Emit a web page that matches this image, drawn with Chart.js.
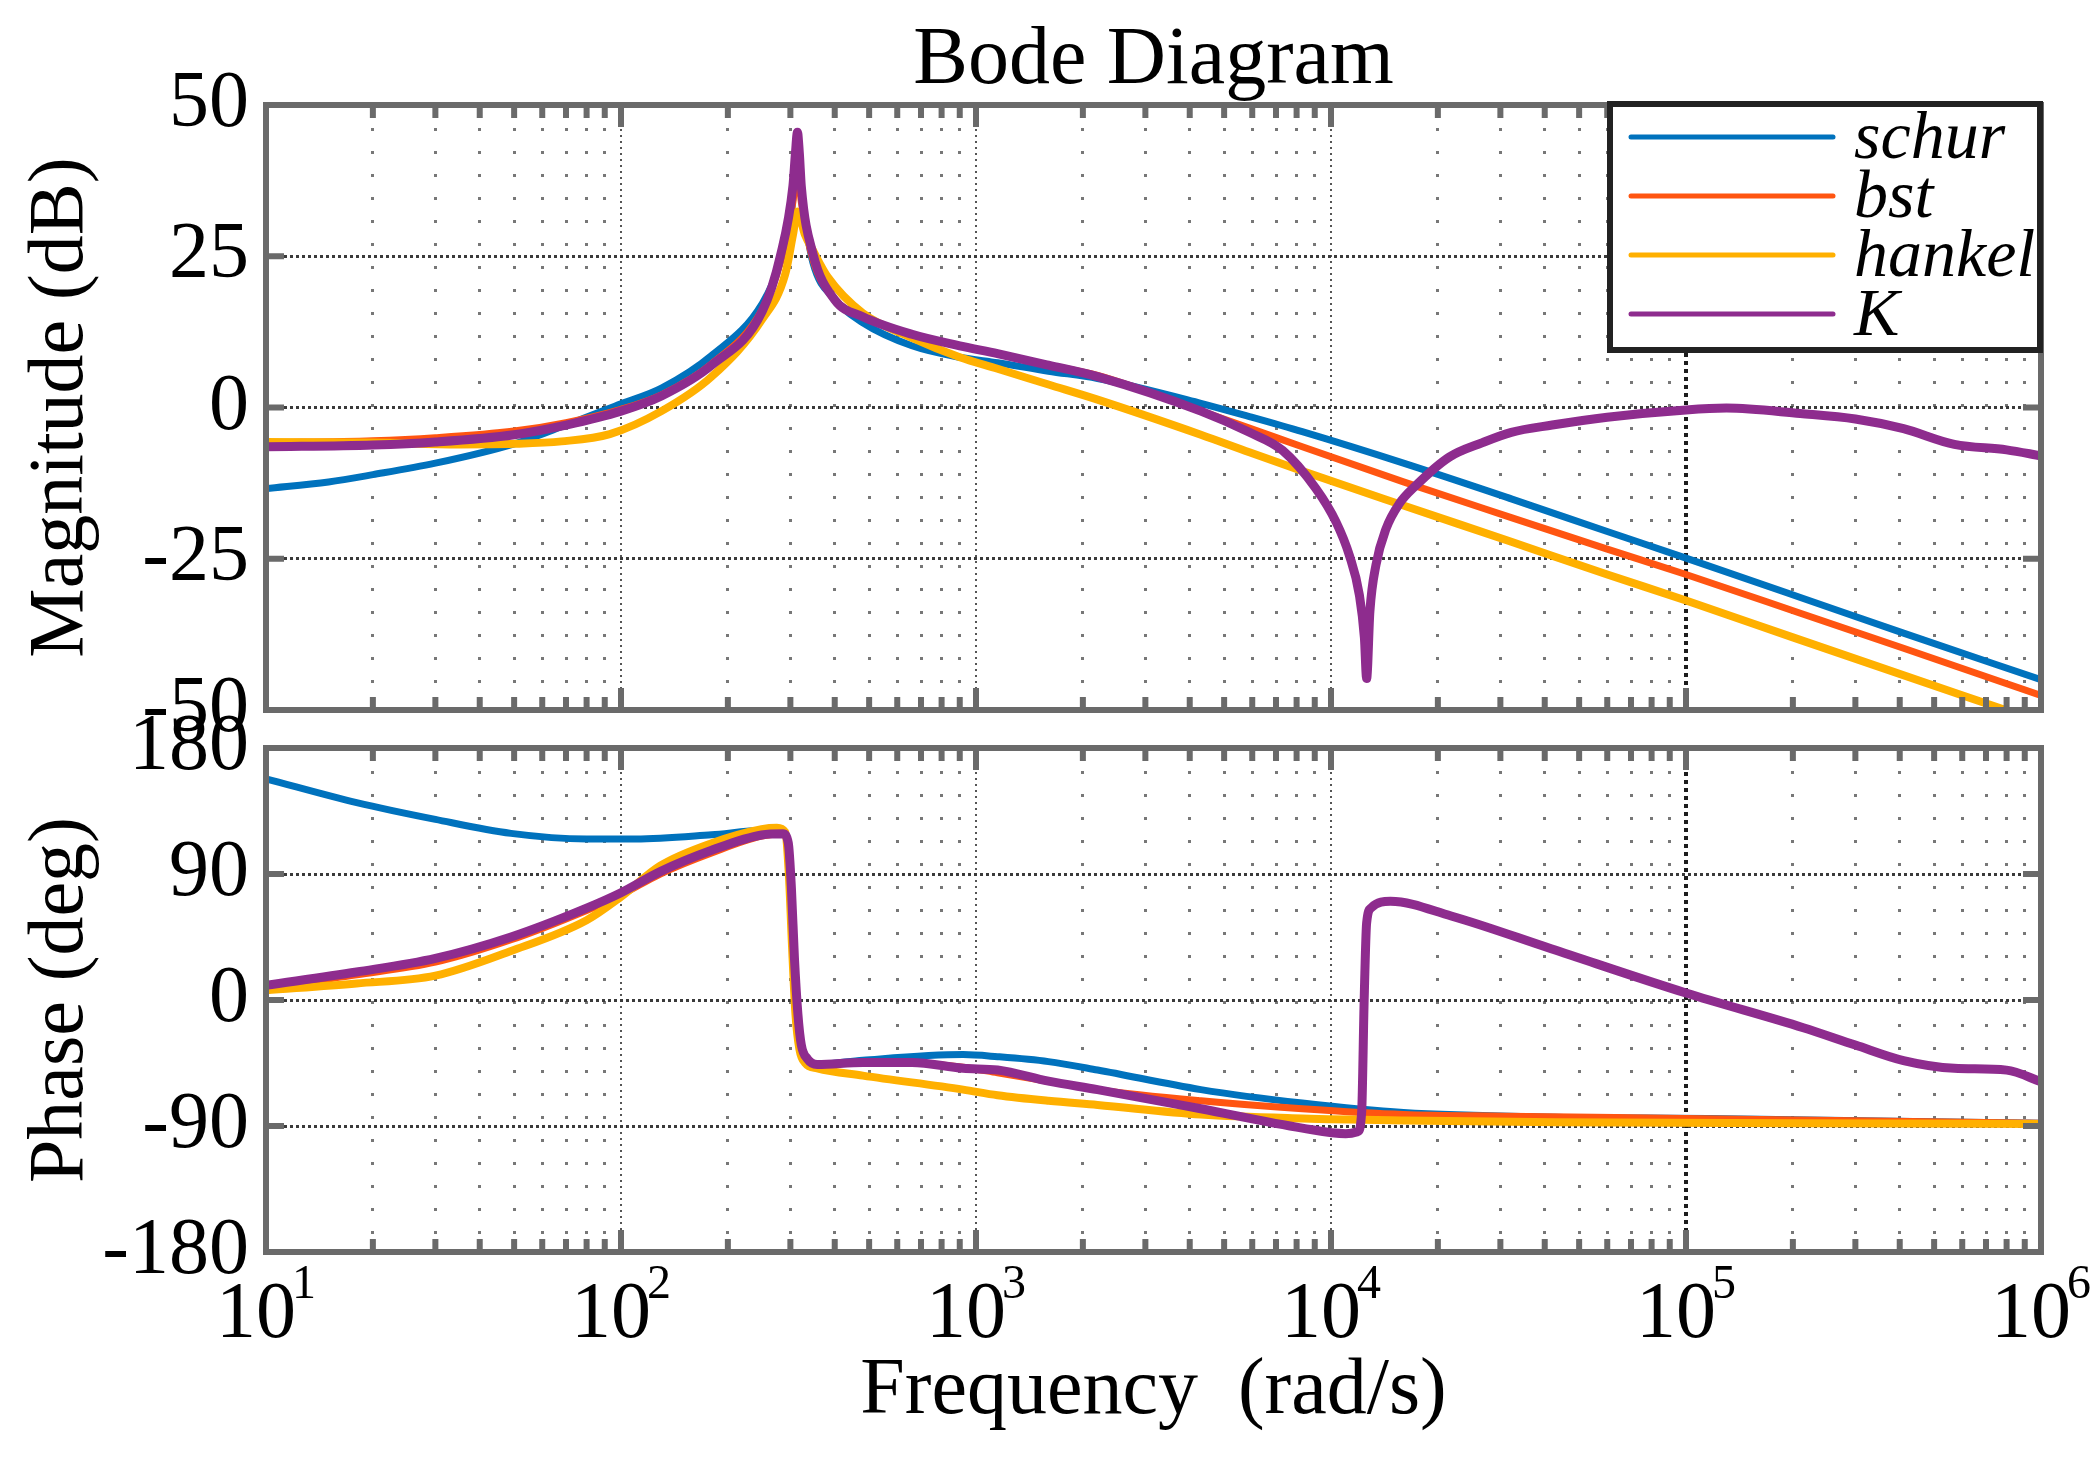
<!DOCTYPE html>
<html>
<head>
<meta charset="utf-8">
<title>Bode Diagram</title>
<script src="https://cdn.jsdelivr.net/npm/chart.js@4.4.0/dist/chart.umd.min.js"></script>
<style>
  html, body { margin: 0; padding: 0; background: #fff; overflow: hidden; }
  #wrap { position: relative; width: 2094px; height: 1459px; }
  canvas { position: absolute; left: 0; top: 0; }
</style>
</head>
<body>
<div id="wrap">
  <canvas id="mag" width="2094" height="1459"></canvas>
  <canvas id="phase" width="2094" height="1459"></canvas>
</div>
<script>
// ---- data ----
const seriesNames = ["schur", "bst", "hankel", "K"];
const decades = [1, 2, 3, 4, 5, 6];
const magTicks = [-50, -25, 0, 25, 50];
const phaseTicks = [-180, -90, 0, 90, 180];

// magnitude (dB)
const schurMagW = [10, 15, 20, 30, 50, 70, 100, 130, 180, 250, 281, 300, 314, 328, 347, 400, 480, 660, 900, 1150, 1600, 2200, 4300, 5890, 8300, 16000, 32200, 60000, 100000, 210000, 410000, 1000000];
const schurMag = [-13.4, -12.3, -11.1, -9.2, -6.0, -2.9, 0.6, 3.2, 8.6, 17.2, 24, 31, 40, 32, 24, 17.9, 14, 10.2, 8.3, 7.4, 6.0, 4.8, 0.7, -1.5, -4.0, -9.2, -15.1, -20.5, -24.9, -31.4, -37.3, -45];

const bstMagW = [10, 20, 30, 50, 70, 100, 130, 180, 250, 281, 305, 314, 322, 347, 400, 480, 660, 900, 1150, 1600, 2200, 4300, 5890, 8300, 16000, 32200, 60000, 100000, 210000, 410000, 1000000];
const bstMag = [-5.8, -5.5, -5.0, -3.9, -2.5, -0.3, 2.1, 7.2, 16.2, 24, 34, 40, 34, 24.5, 17.9, 15, 12.1, 10.2, 8.9, 7.0, 5.3, -0.6, -3.4, -6.5, -12.3, -18.2, -23.4, -27.6, -34, -39.8, -47.6];

const hankelMagW = [10, 20, 35, 50, 68, 93, 130, 180, 250, 290, 305, 314, 330, 347, 382, 480, 660, 900, 1150, 1600, 2200, 4300, 5890, 8300, 16000, 32200, 60000, 100000, 200000, 1000000];
const hankelMag = [-5.7, -5.8, -6.1, -6.0, -5.6, -4.4, -0.6, 5.1, 14.6, 22, 28.5, 32.4, 28.5, 26, 21.6, 15.6, 11.5, 8.3, 6.4, 3.8, 1.3, -4.5, -7.4, -10.5, -16.2, -22.2, -27.6, -31.9, -38, -52];

const kMagW = [10, 20, 30, 50, 70, 100, 130, 180, 250, 281, 305, 310, 314, 318, 322, 347, 400, 480, 660, 900, 1150, 1600, 2200, 4300, 5890, 7310, 9070, 10330, 11260, 12020, 12420, 12600, 12870, 13390, 14300, 15570, 17340, 21530, 26720, 32200, 42000, 60000, 100000, 130000, 210000, 300000, 410000, 570000, 800000, 1000000];
const kMag = [-6.5, -6.2, -5.7, -4.5, -2.9, -0.6, 1.9, 7.0, 15.9, 25, 36.6, 42, 45.5, 42, 36.6, 25.5, 17.8, 15, 12.1, 10.2, 8.9, 7.0, 5.1, -0.6, -4.1, -7.1, -13.4, -18.9, -24.4, -31, -38.1, -44.8, -33.7, -26, -20, -15.9, -12.9, -8.2, -5.8, -4.1, -2.9, -1.6, -0.4, -0.1, -1.0, -1.9, -3.5, -6.1, -7.0, -8.0];

// phase (deg)
const schurPhW = [10, 18, 30, 49, 80, 110, 180, 250, 286, 296, 302, 308, 315, 322, 335, 357, 480, 920, 1150, 1600, 2200, 4300, 8300, 16000, 43000, 115000, 200000, 1000000];
const schurPh = [158, 141, 129, 119, 115, 115, 118, 121, 119, 112, 80, 30, -10, -32, -42, -46, -43, -39, -40.5, -44, -50, -64, -73.6, -80.4, -83.7, -84.6, -85.5, -88];

const bstPhW = [10, 18, 30, 49, 80, 100, 129, 180, 249, 286, 296, 302, 308, 315, 322, 335, 357, 480, 660, 920, 1150, 1600, 2200, 4300, 8300, 16000, 31000, 100000, 1000000];
const bstPh = [9, 18, 27, 43, 64, 75, 90, 105, 117, 118.5, 112, 80, 30, -10, -32, -42, -46, -44.6, -45, -48, -52, -58, -64, -72, -77.7, -81.8, -83, -84.6, -88];

const hankelPhW = [10, 18, 30, 49, 80, 100, 129, 180, 249, 275, 290, 297, 303, 310, 318, 330, 357, 480, 920, 1150, 1600, 2200, 4300, 8300, 16000, 43000, 200000, 1000000];
const hankelPh = [7, 11.8, 17.4, 35, 57, 73.8, 95.9, 112, 122, 123, 120, 90, 40, -10, -35, -45, -48.8, -54, -64, -68, -72, -75, -81.8, -84.6, -86, -87.3, -88, -88.5];

const kPhW = [10, 18, 30, 49, 80, 100, 129, 180, 249, 286, 296, 302, 308, 315, 322, 335, 357, 480, 660, 920, 1150, 1600, 2200, 4300, 8300, 11000, 11900, 12200, 12400, 12600, 13000, 14700, 21800, 41700, 100000, 214000, 300000, 410000, 570000, 800000, 1000000];
const kPh = [10.5, 20, 29.7, 45, 65.6, 76.6, 91.7, 106.9, 117.9, 118.7, 112, 80, 30, -10, -32, -42, -46, -44.6, -44.6, -48.8, -50, -58, -64, -77.7, -91.5, -95.5, -94, -80, 0, 55, 66, 70.5, 60, 36.6, 5, -19.8, -32.2, -43.3, -48.8, -50.1, -58.4];

// ---- styles ----
const colors = ["#0072BD", "#FF5511", "#FFB000", "#8E2C8E"];
const widths = [7, 7, 8, 9];
const SERIF = "'Liberation Serif', 'DejaVu Serif', serif";
const AXIS_GRAY = "#6a6a6a";

// minor + major tick positions along the frequency axis
const xTickValues = [];
decades.forEach(d => {
  for (let m = 1; m <= 9; m++) {
    if (d === decades[decades.length - 1] && m > 1) break;
    xTickValues.push(m * Math.pow(10, d));
  }
});
const isDecade = v => Math.abs(Math.log10(v) - Math.round(Math.log10(v))) < 1e-9;

function toPoints(w, vals) {
  return w.map((x, i) => ({ x: x, y: vals[i] }));
}

function makeDatasets(pairs) {
  return pairs.map((p, i) => ({
    label: seriesNames[i],
    data: toPoints(p[0], p[1]),
    borderColor: colors[i],
    borderWidth: widths[i],
    pointRadius: 0,
    fill: false,
    cubicInterpolationMode: "monotone",
    order: pairs.length - 1 - i   // K drawn last, on top
  }));
}

// x grid style per tick
function xGridColor(ctx) {
  const v = ctx.tick ? ctx.tick.value : null;
  if (v === null || v <= 10 || v >= 1e6) return "rgba(0,0,0,0)";
  if (v === 1e5) return "#1c1c1c";
  return isDecade(v) ? "#555" : "#777";
}
function xGridWidth(ctx) {
  const v = ctx.tick ? ctx.tick.value : null;
  if (v === 1e5) return 4;
  return v !== null && isDecade(v) ? 2 : 3;
}
function xGridDash(ctx) {
  const v = ctx.tick ? ctx.tick.value : null;
  if (v === null) return [];
  if (v === 1e5) return [4, 4];
  return isDecade(v) ? [2, 4] : [3, 20];
}

// box, inside ticks
function frame(extra) {
  return {
    id: "frame",
    afterDatasetsDraw(chart) {
      const { ctx, chartArea: a, scales } = chart;
      const x = scales.x, y = scales.y;
      ctx.save();
      ctx.strokeStyle = AXIS_GRAY;
      ctx.lineWidth = 6;
      ctx.setLineDash([]);
      x.ticks.forEach(t => {
        if (t.value <= x.min || t.value >= x.max) return;
        const px = x.getPixelForValue(t.value);
        const len = t.major ? 22 : 13;
        ctx.beginPath();
        ctx.moveTo(px, a.top); ctx.lineTo(px, a.top + len);
        ctx.moveTo(px, a.bottom); ctx.lineTo(px, a.bottom - len);
        ctx.stroke();
      });
      y.ticks.forEach(t => {
        if (t.value <= y.min || t.value >= y.max) return;
        const py = y.getPixelForValue(t.value);
        ctx.beginPath();
        ctx.moveTo(a.left, py); ctx.lineTo(a.left + 18, py);
        ctx.moveTo(a.right, py); ctx.lineTo(a.right - 18, py);
        ctx.stroke();
      });
      ctx.strokeRect(a.left, a.top, a.right - a.left, a.bottom - a.top);
      ctx.restore();
    },
    afterDraw(chart) {
      if (extra) extra(chart);
    }
  };
}

function makeOptions(yMin, yMax, yTicks, yTitle, padTop, padBottom) {
  return {
    responsive: false,
    animation: false,
    devicePixelRatio: 1,
    layout: { padding: { left: 0, right: 53, top: padTop, bottom: padBottom } },
    plugins: { legend: { display: false }, tooltip: { enabled: false } },
    scales: {
      x: {
        type: "logarithmic",
        min: 10,
        max: 1e6,
        afterBuildTicks: s => { s.ticks = xTickValues.map(v => ({ value: v, major: isDecade(v) })); },
        afterFit: s => { s.height = 0; },
        ticks: { display: false },
        grid: { drawTicks: false, color: xGridColor, lineWidth: xGridWidth },
        border: { display: false, dash: xGridDash }
      },
      y: {
        min: yMin,
        max: yMax,
        afterBuildTicks: s => { s.ticks = yTicks.map(v => ({ value: v })); },
        afterFit: s => { s.width = 266; },
        ticks: { font: { family: SERIF, size: 80 }, color: "#000", padding: 17 },
        grid: {
          drawTicks: false,
          lineWidth: 3,
          color: ctx => (ctx.tick && (ctx.tick.value === yMin || ctx.tick.value === yMax)) ? "rgba(0,0,0,0)" : "#3a3a3a"
        },
        border: { display: false, dash: [3, 3] },
        title: {
          display: true,
          text: yTitle,
          color: "#000",
          font: { family: SERIF, size: 78 },
          padding: { top: 15, bottom: 0 }
        }
      }
    }
  };
}

// top panel extras: title and legend box
function drawTitleAndLegend(chart) {
  const ctx = chart.ctx;
  const a = chart.chartArea;
  ctx.save();
  ctx.fillStyle = "#000";
  ctx.font = "82px " + SERIF;
  ctx.textAlign = "center";
  ctx.textBaseline = "alphabetic";
  ctx.fillText("Bode Diagram", (a.left + a.right) / 2, 83);

  const box = { x: 1610, y: 104, w: 430, h: 246 };
  ctx.fillStyle = "#fff";
  ctx.fillRect(box.x, box.y, box.w, box.h);
  ctx.strokeStyle = "#222";
  ctx.lineWidth = 6;
  ctx.strokeRect(box.x, box.y, box.w, box.h);

  ctx.font = "italic 68px " + SERIF;
  ctx.textAlign = "left";
  chart.data.datasets.forEach((ds, i) => {
    const ly = 137 + i * 59;
    ctx.strokeStyle = ds.borderColor;
    ctx.lineWidth = 5;
    ctx.lineCap = "round";
    ctx.beginPath();
    ctx.moveTo(1631, ly);
    ctx.lineTo(1833, ly);
    ctx.stroke();
    ctx.fillStyle = "#000";
    ctx.fillText(ds.label, 1854, ly + 21);
  });
  ctx.restore();
}

// bottom panel extras: decade labels and x title
function drawFreqAxis(chart) {
  const ctx = chart.ctx;
  const x = chart.scales.x;
  const a = chart.chartArea;
  ctx.save();
  ctx.fillStyle = "#000";
  ctx.textBaseline = "alphabetic";
  ctx.textAlign = "left";
  decades.forEach(d => {
    const px = x.getPixelForValue(Math.pow(10, d));
    ctx.font = "80px " + SERIF;
    const wBase = ctx.measureText("10").width;
    ctx.font = "48px " + SERIF;
    const exp = String(d);
    const wExp = ctx.measureText(exp).width;
    const total = wBase + wExp - 4;
    const start = px - total / 2;
    ctx.font = "80px " + SERIF;
    ctx.fillText("10", start, 1337);
    ctx.font = "48px " + SERIF;
    ctx.fillText(exp, start + wBase - 4, 1298);
  });
  ctx.font = "80px " + SERIF;
  ctx.textAlign = "center";
  ctx.fillText("Frequency  (rad/s)", (a.left + a.right) / 2, 1413);
  ctx.restore();
}

new Chart(document.getElementById("mag"), {
  type: "line",
  data: {
    datasets: makeDatasets([
      [schurMagW, schurMag],
      [bstMagW, bstMag],
      [hankelMagW, hankelMag],
      [kMagW, kMag]
    ])
  },
  options: makeOptions(-50, 50, magTicks, "Magnitude (dB)", 105, 1459 - 710),
  plugins: [frame(drawTitleAndLegend)]
});

new Chart(document.getElementById("phase"), {
  type: "line",
  data: {
    datasets: makeDatasets([
      [schurPhW, schurPh],
      [bstPhW, bstPh],
      [hankelPhW, hankelPh],
      [kPhW, kPh]
    ])
  },
  options: makeOptions(-180, 180, phaseTicks, "Phase (deg)", 748, 1459 - 1252),
  plugins: [frame(drawFreqAxis)]
});
</script>
</body>
</html>
